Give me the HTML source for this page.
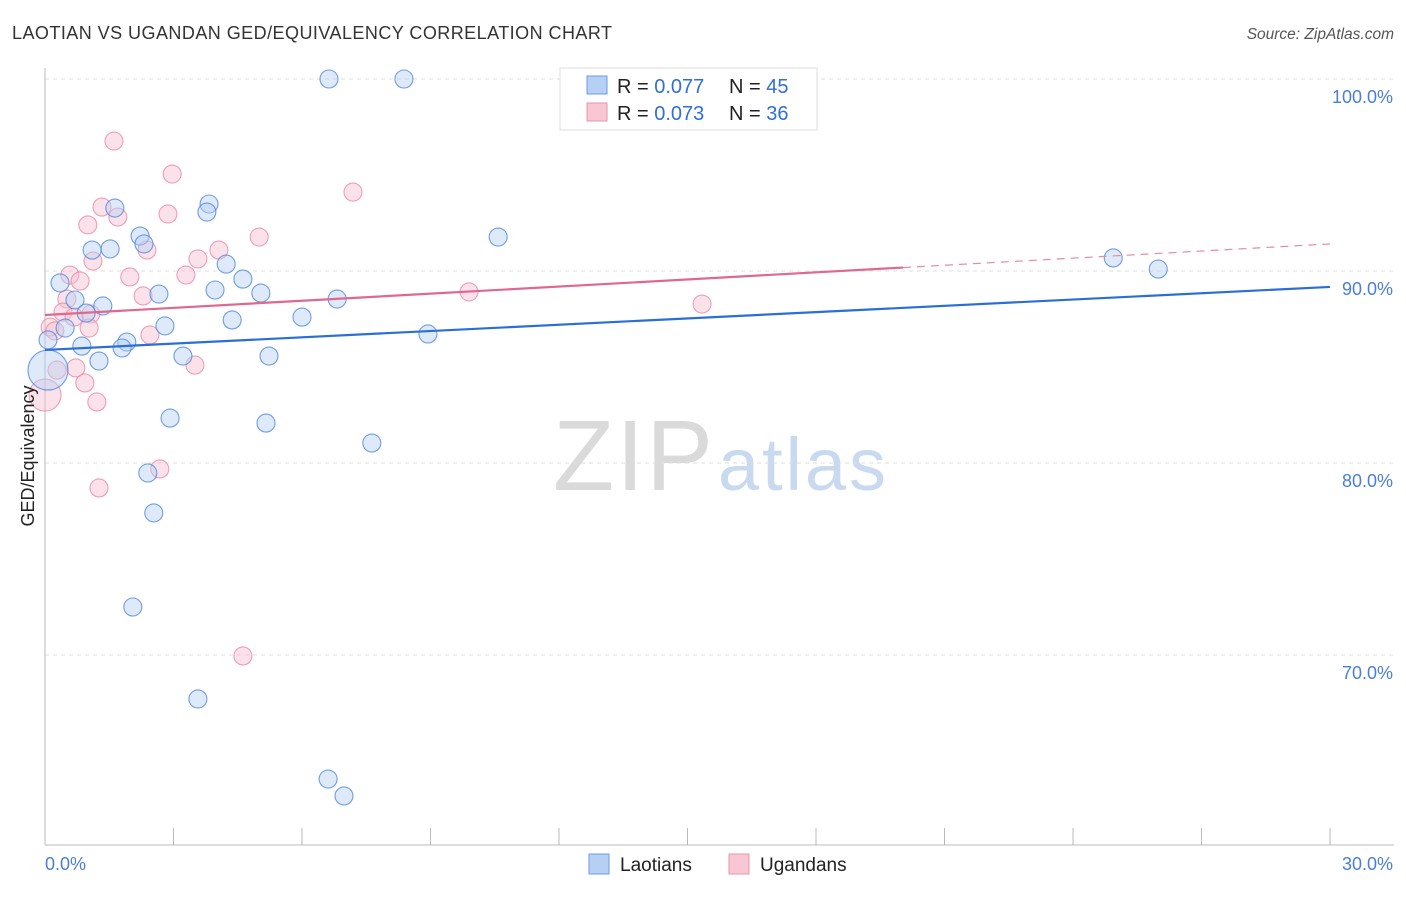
<!DOCTYPE html>
<html><head><meta charset="utf-8"><style>
body{margin:0;background:#fff;font-family:"Liberation Sans",sans-serif;}
svg text{font-family:"Liberation Sans",sans-serif;}
</style></head><body>
<svg id="chart" width="1406" height="892">
<text x="12" y="39" font-size="18" fill="#333" textLength="600">LAOTIAN VS UGANDAN GED/EQUIVALENCY CORRELATION CHART</text>
<text x="1394" y="39" font-size="15.5" fill="#555" font-style="italic" text-anchor="end">Source: ZipAtlas.com</text>
<g>
<text x="553" y="490" font-size="100" fill="#dadada" font-family="Liberation Serif,serif" textLength="160">ZIP</text>
<text x="718" y="490" font-size="74" fill="#c9daf0" textLength="168">atlas</text>
</g>
<g id="grid"></g>
<g id="axes"></g>
<g id="marks"></g>
<text transform="translate(34,456) rotate(-90)" font-size="18" fill="#222" text-anchor="middle">GED/Equivalency</text>
<g>
<rect x="560" y="68" width="257" height="62" fill="#fff" stroke="#ddd"/>
<rect x="587" y="76" width="20" height="18" fill="#b6d0f5" stroke="#6f9be0"/>
<rect x="587" y="103" width="20" height="18" fill="#f9c6d4" stroke="#e795ab"/>
<text x="617" y="93" font-size="20" fill="#222">R = <tspan fill="#2f6fd6">0.077</tspan></text>
<text x="729" y="93" font-size="20" fill="#222">N = <tspan fill="#2f6fd6">45</tspan></text>
<text x="617" y="120" font-size="20" fill="#222">R = <tspan fill="#2f6fd6">0.073</tspan></text>
<text x="729" y="120" font-size="20" fill="#222">N = <tspan fill="#2f6fd6">36</tspan></text>
</g>
<g>
<rect x="589" y="854" width="20" height="20" fill="#b6d0f5" stroke="#6f9be0"/>
<text x="620" y="871" font-size="19" fill="#222">Laotians</text>
<rect x="729" y="854" width="20" height="20" fill="#f9c6d4" stroke="#e795ab"/>
<text x="760" y="871" font-size="19" fill="#222">Ugandans</text>
</g>
</svg>
<script>
const xTicks=[0,3,6,9,12,15,18,21,24,27,30];
const yTicks=[70,80,90,100];
const yTickLabels=["70.0%","80.0%","90.0%","100.0%"];
const blueX=[6.63,8.38,1.63,3.83,3.78,2.22,2.31,1.10,1.52,10.58,24.94,25.99,0.35,4.23,4.62,3.97,5.04,2.66,0.70,1.35,6.82,0.96,6.00,4.37,2.80,0.47,8.94,0.07,0.86,1.91,1.80,3.22,5.23,1.26,0.07,2.92,5.16,7.63,2.40,2.54,2.05,3.57,6.61,6.98];
const blueY=[100,100,93.28,93.49,93.07,91.82,91.41,91.09,91.15,91.77,90.68,90.10,89.38,90.36,89.58,89.01,88.85,88.80,88.49,88.18,88.54,87.81,87.60,87.45,87.14,87.03,86.72,86.41,86.09,86.30,85.99,85.57,85.57,85.31,84.84,82.34,82.08,81.04,79.48,77.40,72.50,67.71,63.54,62.66];
const blueR=[9,9,9,9,9,9,9,9,9,9,9,9,9,9,9,9,9,9,9,9,9,9,9,9,9,9,9,9,9,9,9,9,9,9,20,9,9,9,9,9,9,9,9,9];
const pinkX=[1.61,2.97,7.19,1.33,2.87,1.70,1.00,5.00,2.38,4.06,1.12,3.57,0.58,3.29,1.98,0.82,2.29,0.51,9.90,15.34,0.42,1.07,0.68,1.03,0.12,2.45,0.23,0.72,3.50,0.28,0.93,0.00,1.21,2.68,1.26,4.62];
const pinkY=[96.77,95.05,94.11,93.33,92.97,92.81,92.40,91.77,91.09,91.09,90.52,90.63,89.79,89.79,89.69,89.48,88.70,88.54,88.91,88.28,87.86,87.76,87.60,87.03,87.08,86.67,86.88,84.95,85.10,84.84,84.17,83.54,83.18,79.69,78.70,69.95];
const pinkR=[9,9,9,9,9,9,9,9,9,9,9,9,9,9,9,9,9,9,9,9,9,9,9,9,9,9,9,9,9,9,9,16,9,9,9,9];
const blueTrend=[85.89,89.17];
const pinkTrend=[87.71,91.41];
const pinkSolidEnd=20.03;
const NS="http://www.w3.org/2000/svg";
const X=v=>45+v/30*1285;
const Y=v=>79+(100-v)*19.2;
function mk(t,a,p){const e=document.createElementNS(NS,t);for(const k in a)e.setAttribute(k,a[k]);p.appendChild(e);return e;}
const grid=document.getElementById('grid'),axes=document.getElementById('axes'),marks=document.getElementById('marks');
yTicks.forEach((t,i)=>{
 const l=mk('line',{x1:45,x2:1394,y1:Y(t),y2:Y(t),stroke:'#ddd','stroke-dasharray':'4,4'},grid);
 
 
 const tx=mk('text',{x:1393,y:Y(t)+24,'font-size':18,fill:'#4a7fd4','text-anchor':'end'},axes);
 tx.textContent=yTickLabels[i];
 
 
});
mk('line',{x1:45,x2:45,y1:68,y2:845,stroke:'#bbb'},axes);
mk('line',{x1:45,x2:1394,y1:845,y2:845,stroke:'#bbb'},axes);
xTicks.forEach(t=>{
 const l=mk('line',{x1:X(t),x2:X(t),y1:828,y2:845,stroke:'#bbb'},axes);
 
 
});
const xl0=mk('text',{x:45,y:870,'font-size':18,fill:'#4a7fd4'},axes);xl0.textContent='0.0%';


const xl1=mk('text',{x:1393,y:870,'font-size':18,fill:'#4a7fd4','text-anchor':'end'},axes);xl1.textContent='30.0%';


function pts(xs,ys,rs,fill,stroke,name){xs.forEach((x,i)=>{
 const c=mk('circle',{cx:X(x),cy:Y(ys[i]),r:rs[i],fill:fill,'fill-opacity':0.45,stroke:stroke,'stroke-opacity':0.8,'stroke-width':1.1},marks);
 
 
});}
pts(pinkX,pinkY,pinkR,'#f7bfd0','#e88aa6','ugandan-point');
pts(blueX,blueY,blueR,'#b6d0f5','#4f87dc','laotian-point');
const bt=mk('line',{x1:X(0),y1:Y(blueTrend[0]),x2:X(30),y2:Y(blueTrend[1]),stroke:'#2a6fd6','stroke-width':2.2},marks);


const pe=pinkTrend[0]+(pinkTrend[1]-pinkTrend[0])*pinkSolidEnd/30;
const pt=mk('line',{x1:X(0),y1:Y(pinkTrend[0]),x2:X(pinkSolidEnd),y2:Y(pe),stroke:'#e0688f','stroke-width':2.2},marks);


const pd=mk('line',{x1:X(pinkSolidEnd),y1:Y(pe),x2:X(30),y2:Y(pinkTrend[1]),stroke:'#e88aa6','stroke-width':1.2,'stroke-dasharray':'8,6'},marks);


</script>
</body></html>
